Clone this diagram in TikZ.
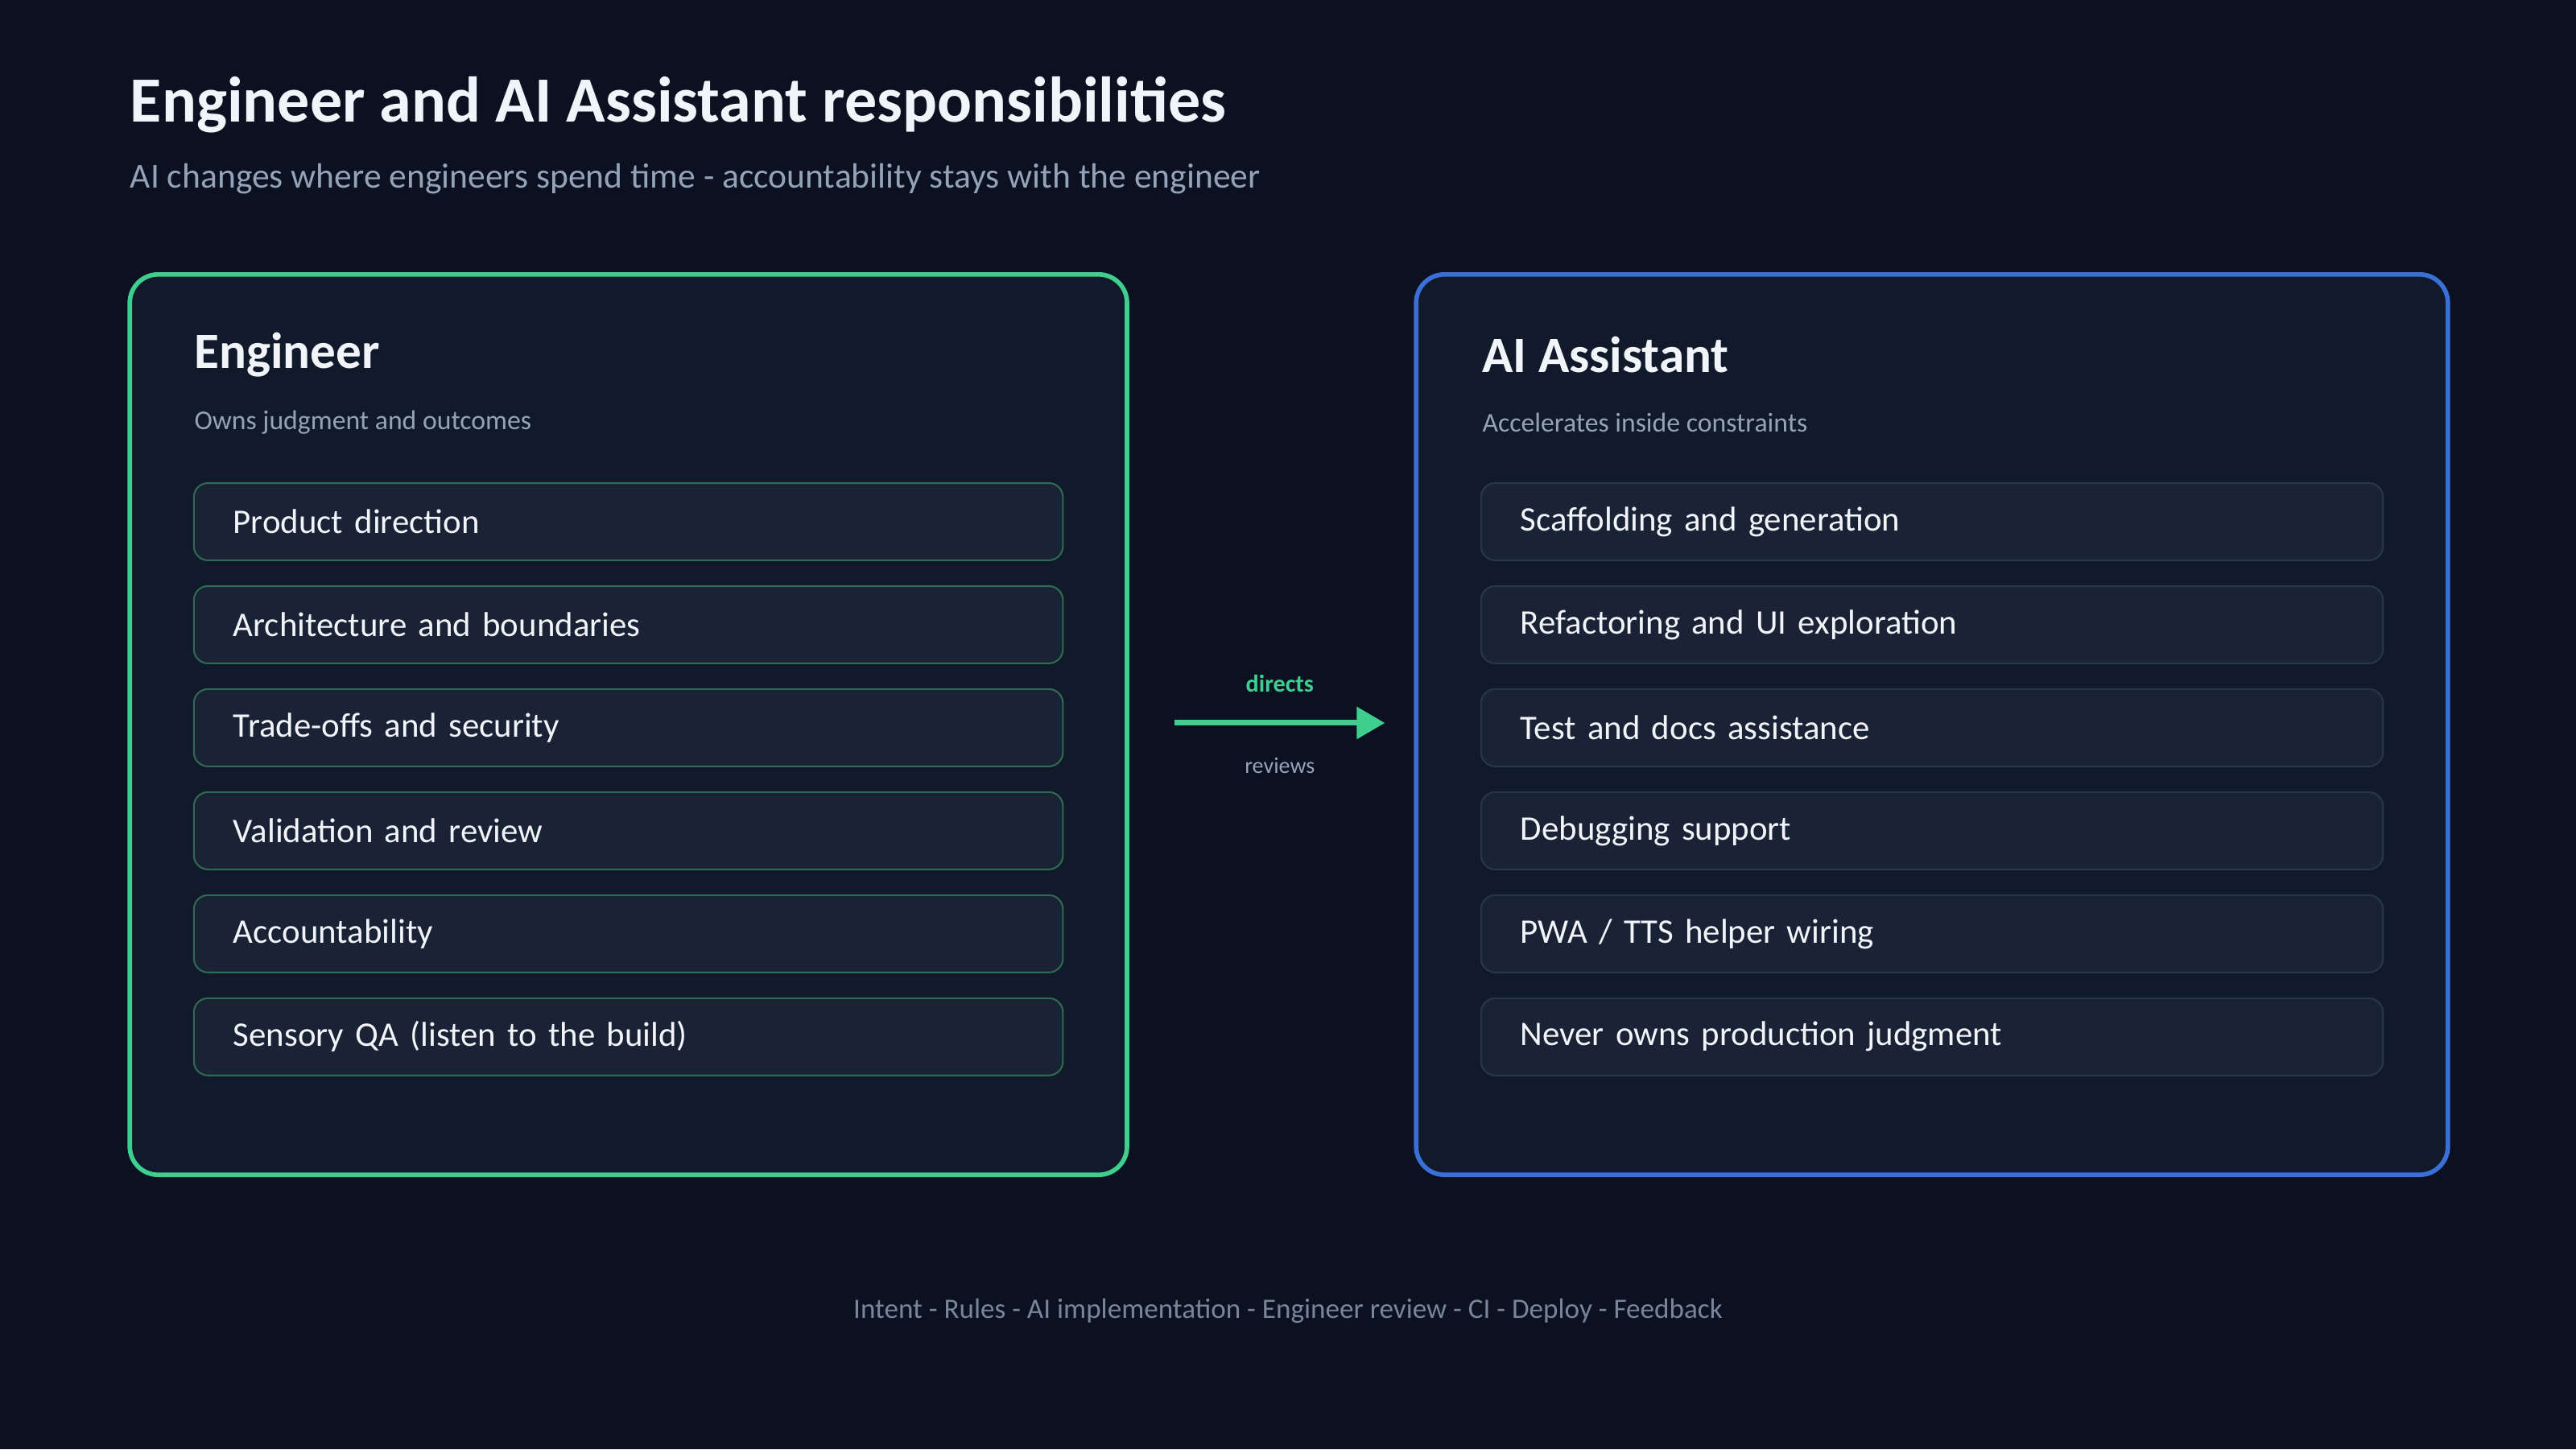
\documentclass[tikz,border=0pt]{standalone}
\usepackage{fontspec}
\setmainfont{Carlito}
\usetikzlibrary{arrows.meta}
\definecolor{bgc}{HTML}{0B1120}
\definecolor{panelc}{HTML}{111A2B}
\definecolor{itemc}{HTML}{1A2336}
\definecolor{greenc}{HTML}{3ECF8E}
\definecolor{bluec}{HTML}{3B6FD8}
\definecolor{gitemb}{HTML}{2D6A4F}
\definecolor{bitemb}{HTML}{2A3448}
\definecolor{textc}{HTML}{F1F5F9}
\definecolor{mutedc}{HTML}{94A3B8}
\begin{document}
\begin{tikzpicture}[x=0.02041cm,y=-0.02041cm,
panel/.style={line width=1.6pt,rounded corners=10pt,fill=panelc},
item/.style={draw,line width=0.6pt,rounded corners=5pt,fill=itemc,minimum height=47*0.02041cm,align=left,font=\fontsize{12.2}{14}\selectfont,text=textc},
litem/.style={item,draw=gitemb,minimum width=529*0.02041cm,text width=481*0.02041cm},
ritem/.style={item,draw=bitemb,minimum width=549*0.02041cm,text width=501*0.02041cm},
head/.style={anchor=west,inner sep=0pt,font=\fontsize{18}{20}\selectfont\bfseries,text=textc},
sub/.style={anchor=west,inner sep=0pt,font=\fontsize{9.6}{11}\selectfont,text=mutedc}]
\fill[bgc] (0,0) rectangle (1568,882);
\node[anchor=west,inner sep=0pt,font=\fontsize{22.8}{26}\selectfont\bfseries,text=textc] (title) at (79,64) {Engineer and AI Assistant responsibilities};
\node[anchor=west,inner sep=0pt,font=\fontsize{12.4}{14}\selectfont,text=mutedc] (subtitle) at (79,109) {AI changes where engineers spend time - accountability stays with the engineer};
\draw[panel,draw=greenc] (79,167) rectangle (686,715);
\draw[panel,draw=bluec] (862,167) rectangle (1490,715);
\node[head] (eng) at (118,216) {Engineer};
\node[sub] (engsub) at (118,257) {Owns judgment and outcomes};
\node[head] (ai) at (902,216) {AI Assistant};
\node[sub] (aisub) at (902,257) {Accelerates inside constraints};
\node[litem] (e1) at (382.5,317.5) {Product direction};
\node[litem] (e2) at (382.5,380.2) {Architecture and boundaries};
\node[litem] (e3) at (382.5,442.9) {Trade-offs and security};
\node[litem] (e4) at (382.5,505.6) {Validation and review};
\node[litem] (e5) at (382.5,568.3) {Accountability};
\node[litem] (e6) at (382.5,631) {Sensory QA (listen to the build)};
\node[ritem] (a1) at (1176,317.5) {Scaffolding and generation};
\node[ritem] (a2) at (1176,380.2) {Refactoring and UI exploration};
\node[ritem] (a3) at (1176,442.9) {Test and docs assistance};
\node[ritem] (a4) at (1176,505.6) {Debugging support};
\node[ritem] (a5) at (1176,568.3) {PWA / TTS helper wiring};
\node[ritem] (a6) at (1176,631) {Never owns production judgment};
\coordinate (from) at (715,440);
\coordinate (to) at (843,440);
\draw[greenc,line width=2pt,-{Triangle[length=10pt,width=11pt]}] (from) -- (to);
\node[font=\fontsize{8.6}{10}\selectfont\bfseries,text=greenc] (dir) at (779,416) {directs};
\node[font=\fontsize{8}{9}\selectfont,text=mutedc] (rev) at (779,466) {reviews};
\node[font=\fontsize{10}{12}\selectfont,text=mutedc!80!bgc] (foot) at (784,798) {Intent - Rules - AI implementation - Engineer review - CI - Deploy - Feedback};
\end{tikzpicture}
\end{document}
